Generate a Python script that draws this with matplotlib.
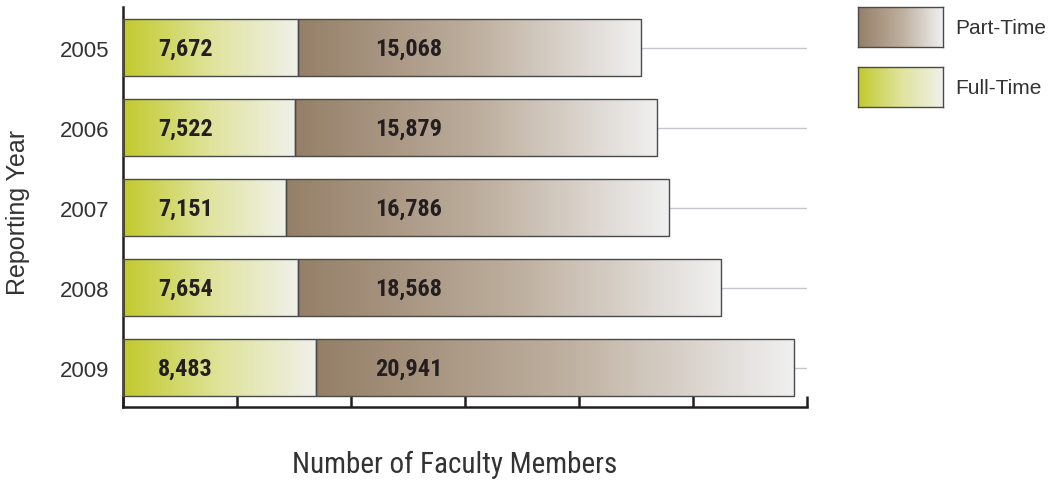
import numpy as np
import matplotlib.pyplot as plt
from matplotlib.colors import LinearSegmentedColormap
from matplotlib.patches import Rectangle

years = ["2005", "2006", "2007", "2008", "2009"]
full_time = [7672, 7522, 7151, 7654, 8483]
part_time = [15068, 15879, 16786, 18568, 20941]

green = LinearSegmentedColormap.from_list("ft", ["#c2ca2c", "#dfe39a", "#f0f1ea"])
brown = LinearSegmentedColormap.from_list("pt", ["#957f68", "#bcad9c", "#f0f0f0"])
grad = np.linspace(0, 1, 256).reshape(1, -1)

narrow = ["Roboto Condensed", "DejaVu Sans"]
plain = ["Liberation Sans", "DejaVu Sans"]

fig = plt.figure(figsize=(10.48, 4.81), dpi=100)
ax = fig.add_axes([123 / 1048, 1 - 408 / 481, (807 - 123) / 1048, 400 / 481])

y = np.arange(len(years))
h = 0.71

# grid lines behind the bars
for yi in y:
    ax.plot([0, 30000], [yi, yi], color="#c6c6ce", lw=1, zorder=0)

def grad_bar(ax, left, width, yi, cmap):
    rect = Rectangle((left, yi - h / 2), width, h, facecolor="none",
                     edgecolor="#4a4a4a", lw=1, zorder=3)
    ax.add_patch(rect)
    im = ax.imshow(grad, cmap=cmap, aspect="auto", zorder=2,
                   extent=(left, left + width, yi + h / 2, yi - h / 2))
    im.set_clip_path(rect)

for yi, ft, pt in zip(y, full_time, part_time):
    grad_bar(ax, 0, ft, yi, green)
    grad_bar(ax, ft, pt, yi, brown)
    ax.text(1540, yi, f"{ft:,}", va="center", ha="left", fontsize=17.5,
            fontweight="bold", color="#231f20", family=narrow, zorder=4)
    ax.text(11060, yi, f"{pt:,}", va="center", ha="left", fontsize=17.5,
            fontweight="bold", color="#231f20", family=narrow, zorder=4)

ax.set_xlim(0, 30000)
ax.set_ylim(4.49, -0.51)
ax.set_xticks(range(0, 30001, 5000))
ax.set_xticklabels([])
ax.set_yticks(y)
ax.set_yticklabels(years, fontsize=16, color="#333333", family=plain)
ax.tick_params(axis="y", length=0, pad=10)
ax.tick_params(axis="x", direction="in", length=8, width=1.8, color="#231f20")
for s in ["top", "right"]:
    ax.spines[s].set_visible(False)
for s in ["left", "bottom"]:
    ax.spines[s].set_linewidth(1.8)
    ax.spines[s].set_color("#231f20")

fig.text(18 / 1048, 1 - 212 / 481, "Reporting Year", rotation=90, ha="center",
         va="center", fontsize=18, color="#333333", family=plain)
fig.text(455 / 1048, 1 - 465 / 481, "Number of Faculty Members", ha="center",
         va="center", fontsize=21, color="#333333", family=narrow)

# legend
for top, cmap, label in [(8, brown, "Part-Time"), (68, green, "Full-Time")]:
    lax = fig.add_axes([858 / 1048, 1 - (top + 40) / 481, 85 / 1048, 40 / 481])
    lax.imshow(grad, cmap=cmap, aspect="auto", extent=(0, 1, 0, 1))
    lax.set_xticks([])
    lax.set_yticks([])
    for sp in lax.spines.values():
        sp.set_color("#4a4a4a")
        sp.set_linewidth(1)
    fig.text(955 / 1048, 1 - (top + 20) / 481, label, ha="left", va="center",
             fontsize=15, color="#333333", family=plain)

fig.savefig("out.png", dpi=100)
